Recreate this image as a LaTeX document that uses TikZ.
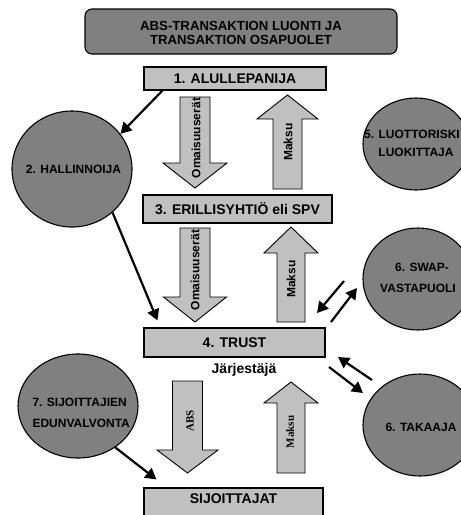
\documentclass[tikz,border=0pt]{standalone}
\usepackage{fontspec}
\setmainfont{Liberation Sans}
\newfontfamily\serifbf{Liberation Serif}
\usetikzlibrary{arrows.meta,shapes.geometric,calc}
\definecolor{lgrey}{HTML}{C0C0C0}
\definecolor{dgrey}{HTML}{808080}
\newcommand\blockarr[6]{%
  \draw[blk] (#1-#5,#2) -- (#1+#5,#2) -- (#1+#5,#3) -- (#1+#6,#3) -- (#1,#4)
    -- (#1-#6,#3) -- (#1-#5,#3) -- cycle;}
\tikzset{
  box/.style={draw=black, line width=1.1pt, fill=lgrey, rectangle, inner sep=0pt},
  titlebox/.style={draw=black, line width=1.1pt, fill=dgrey, rounded corners=7pt, inner sep=0pt},
  party/.style={draw=black, line width=1.1pt, fill=dgrey, ellipse, inner sep=0pt},
  blk/.style={draw=black, line width=0.9pt, fill=lgrey},
  conn/.style={line width=2.2pt, -{Triangle[length=11pt,width=12pt]}},
  boxtxt/.style={font=\bfseries\fontsize{14}{16}\selectfont},
  ctxt/.style={font=\bfseries\fontsize{12}{14}\selectfont},
  atxt/.style={font=\bfseries\fontsize{12}{14}\selectfont, rotate=90, inner sep=0pt},
  stxt/.style={font=\serifbf\bfseries\fontsize{11}{13}\selectfont, rotate=90, inner sep=0pt},
}
\begin{document}
\begin{tikzpicture}[x=1pt,y=-1pt]
\useasboundingbox (0,0) rectangle (461,515);
\clip (0,0) rectangle (461,515);
\fill[white] (0,0) rectangle (461,515);

% title
\node[titlebox, minimum width=312pt, minimum height=45pt] (title) at (241,31.5) {};
\node[font=\bfseries\fontsize{13.2}{14}\selectfont, align=center] (titletxt) at (241,33)
  {ABS-TRANSAKTION LUONTI JA\\TRANSAKTION OSAPUOLET};

% boxes
\node[box, minimum width=182pt, minimum height=23pt] (b1) at (235,78.5) {};
\node[boxtxt] at (b1.center) {1. ALULLEPANIJA};
\node[box, minimum width=189pt, minimum height=28pt] (b3) at (237.5,209) {};
\node[boxtxt] at (b3.center) {3. ERILLISYHTIÖ eli SPV};
\node[box, minimum width=181pt, minimum height=29pt] (b4) at (234.5,342.5) {};
\node[boxtxt] at (b4.center) {4. TRUST};
\node[boxtxt] (jarj) at (244,370) {Järjestäjä};
\node[box, minimum width=179pt, minimum height=34pt] (sij) at (233.5,505) {};
\node[boxtxt] at (233.5,499) {SIJOITTAJAT};

% block arrows
\blockarr{195}{97}{163}{188}{15}{32}
\node[atxt] (om1) at (196,138) {Omaisuuserät};
\blockarr{287.5}{189}{119}{95}{14.5}{30.5}
\node[atxt] (mk1) at (288,142) {Maksu};
\blockarr{195}{228}{297}{322}{15}{31.5}
\node[atxt] (om2) at (195,270) {Omaisuuserät};
\blockarr{291}{322}{253}{227}{14}{27}
\node[atxt] (mk2) at (291,279) {Maksu};
\blockarr{187.5}{381}{450}{473}{15}{30.5}
\node[stxt] (abs) at (190,421) {ABS};
\blockarr{291}{473}{403}{382}{14}{27}
\node[stxt] (mk3) at (290,432) {Maksu};

% parties
\node[party, minimum width=120pt, minimum height=116pt] (c2) at (72,169) {};
\node[ctxt] at (73.5,169) {2. HALLINNOIJA};
\node[party, minimum width=106pt, minimum height=92pt] (c5) at (416,144) {};
\node[ctxt] at (412,134) {5. LUOTTORISKI};
\node[ctxt] at (416,152) {LUOKITTAJA};
\node[party, minimum width=110pt, minimum height=102pt] (c6s) at (418,279) {};
\node[ctxt] at (422,267) {6. SWAP-};
\node[ctxt] at (418,288) {VASTAPUOLI};
\node[party, minimum width=114pt, minimum height=102pt] (c6t) at (420,425) {};
\node[ctxt] at (421,427) {6. TAKAAJA};
\node[party, minimum width=120pt, minimum height=104pt] (c7) at (78,406) {};
\node[ctxt, anchor=west] at (29,402) {7. SIJOITTAJIEN};
\node[ctxt, anchor=west] at (29,423) {EDUNVALVONTA};

% connectors
\coordinate (b1out) at ($(b1.south west)+(19,0)$);
\draw[conn] (b1out) -- (c2.36);
\coordinate (b4in) at ($(b4.north west)+(14,-7)$);
\draw[conn] (c2.-47) -- (b4in);
\coordinate (sijin) at ($(sij.north west)+(13,-8)$);
\draw[conn] (c7.-48) -- (sijin);

\coordinate (sw1s) at (344,281);
\coordinate (sw1e) at (317,313);
\coordinate (sw2s) at (331,322);
\coordinate (sw2e) at (357,288);
\draw[conn] (sw1s) -- (sw1e);
\draw[conn] (sw2s) -- (sw2e);

\coordinate (tk1s) at (372,380);
\coordinate (tk1e) at (338,357);
\coordinate (tk2s) at (329,367);
\coordinate (tk2e) at (363,393);
\draw[conn] (tk1s) -- (tk1e);
\draw[conn] (tk2s) -- (tk2e);
\end{tikzpicture}
\end{document}
